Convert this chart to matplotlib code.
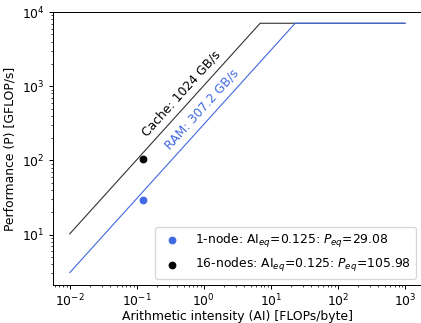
import numpy as np
import matplotlib
matplotlib.use('Agg')
from matplotlib import pyplot as plt

# roofline parameters
ai_range = [0.01, 1000]
peak = 7065.6
bw_names = ['Cache', 'RAM']
bw_values = [1024, 307.2]
bw_colors = ['#333333', 'royalblue']
bw_label_pos = [(0.14, 205), (0.315, 138)]

# measured points
pt_labels = ['1-node', '16-nodes']
pt_ai = [0.125, 0.125]
pt_perf = [29.08, 105.98]
pt_colors = ['royalblue', 'black']

dpi = 89
fig = plt.figure(figsize=(421 / dpi, 323 / dpi), dpi=dpi)
ax = fig.add_axes([0.1259, 0.1176, 0.876, 0.845])

for name, bw, c, pos in zip(bw_names, bw_values, bw_colors, bw_label_pos):
    ridge = peak / bw
    xs = [ai_range[0], ridge, ai_range[1]]
    ys = [min(peak, bw * x) for x in xs]
    ax.plot(xs, ys, color=c, lw=0.9)
    ax.text(pos[0], pos[1], '%s: %g GB/s' % (name, bw), rotation=48,
            rotation_mode='anchor', color='black' if name == 'Cache' else c)

for lab, a, p, c in zip(pt_labels, pt_ai, pt_perf, pt_colors):
    ax.scatter(a, p, color=c, s=28, zorder=3,
               label=lab + ': AI$_{eq}$=%g: $P_{eq}$=%.2f' % (a, p))

ax.set_xscale('log')
ax.set_yscale('log')
ax.set_xlim(10**-2.25, 10**3.25)
ax.set_ylim(2.09, 1e4)
ax.tick_params(axis='x', pad=2.5)

ax.set_xlabel('Arithmetic intensity (AI) [FLOPs/byte]', labelpad=0.5)
ax.set_ylabel('Performance (P) [GFLOP/s]')
ax.legend(loc='lower right')

plt.savefig('out.png', dpi=dpi)
